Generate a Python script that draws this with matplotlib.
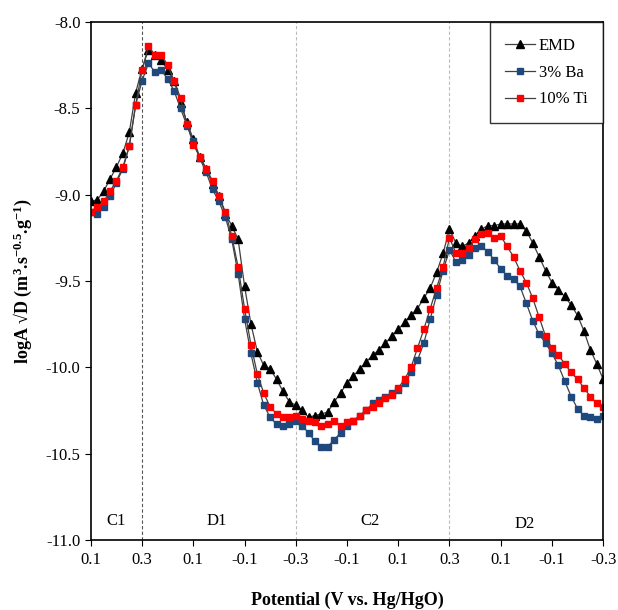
import numpy as np
import matplotlib
matplotlib.use('Agg')
from matplotlib import pyplot as plt
from matplotlib.ticker import FormatStrFormatter

plt.rcParams['font.family'] = ['Liberation Serif', 'DejaVu Serif']
plt.rcParams['mathtext.fontset'] = 'custom'
plt.rcParams['mathtext.rm'] = 'Liberation Serif'
plt.rcParams['mathtext.bf'] = 'Liberation Serif:bold'
plt.rcParams['mathtext.default'] = 'bf'
plt.rcParams['axes.unicode_minus'] = False

emd = [-9.04, -9.03, -8.98, -8.91, -8.84, -8.76, -8.64, -8.41, -8.27, -8.16,
       -8.19, -8.22, -8.28, -8.34, -8.47, -8.58, -8.68, -8.78, -8.85, -8.94,
       -9.01, -9.11, -9.18, -9.26, -9.53, -9.75, -9.91, -9.99, -10.01, -10.07,
       -10.14, -10.20, -10.22, -10.25, -10.29, -10.28, -10.27, -10.26, -10.20, -10.15,
       -10.09, -10.05, -10.01, -9.97, -9.93, -9.90, -9.86, -9.82, -9.78, -9.74,
       -9.70, -9.66, -9.60, -9.54, -9.45, -9.34, -9.20, -9.28, -9.30, -9.28,
       -9.24, -9.20, -9.18, -9.18, -9.17, -9.17, -9.17, -9.17, -9.21, -9.28,
       -9.36, -9.44, -9.51, -9.55, -9.59, -9.64, -9.70, -9.79, -9.90, -9.98,
       -10.07]
ba3 = [-9.10, -9.11, -9.07, -9.01, -8.93, -8.85, -8.72, -8.48, -8.34, -8.24,
       -8.29, -8.28, -8.33, -8.40, -8.50, -8.60, -8.69, -8.79, -8.87, -8.97,
       -9.04, -9.13, -9.26, -9.46, -9.72, -9.92, -10.09, -10.22, -10.29, -10.33,
       -10.34, -10.33, -10.31, -10.34, -10.38, -10.43, -10.46, -10.46, -10.42, -10.38,
       -10.34, -10.31, -10.28, -10.25, -10.21, -10.19, -10.17, -10.15, -10.13, -10.09,
       -10.03, -9.96, -9.86, -9.72, -9.58, -9.44, -9.32, -9.39, -9.38, -9.35,
       -9.31, -9.30, -9.33, -9.38, -9.43, -9.47, -9.49, -9.53, -9.63, -9.73,
       -9.81, -9.86, -9.92, -9.99, -10.08, -10.17, -10.24, -10.28, -10.29, -10.30,
       -10.28]
ti10 = [-9.10, -9.07, -9.04, -8.98, -8.92, -8.84, -8.72, -8.48, -8.28, -8.14,
        -8.19, -8.19, -8.25, -8.34, -8.44, -8.59, -8.71, -8.78, -8.85, -8.92,
        -9.01, -9.10, -9.24, -9.42, -9.66, -9.87, -10.04, -10.15, -10.23, -10.27,
        -10.29, -10.29, -10.28, -10.30, -10.31, -10.32, -10.34, -10.33, -10.31, -10.34,
        -10.32, -10.31, -10.28, -10.25, -10.23, -10.21, -10.18, -10.16, -10.12, -10.07,
        -10.00, -9.89, -9.78, -9.66, -9.54, -9.42, -9.25, -9.34, -9.34, -9.31,
        -9.26, -9.23, -9.22, -9.25, -9.24, -9.30, -9.36, -9.44, -9.51, -9.60,
        -9.71, -9.82, -9.89, -9.93, -9.98, -10.03, -10.07, -10.12, -10.17, -10.21,
        -10.23]

tick_labels = ['0.1', '0.3', '0.1', '-0.1', '-0.3', '-0.1', '0.1', '0.3',
               '0.1', '-0.1', '-0.3']
regions = ['C1', 'D1', 'C2', 'D2']

step = np.arange(len(emd))
fig = plt.figure(figsize=(6.18, 6.10), dpi=100)
ax = fig.add_axes([0.147, 0.115, 0.829, 0.849])

ax.plot(step, emd, color='#404040', lw=0.9, marker='^', ms=5.5,
        mfc='black', mec='black', label='EMD')
ax.plot(step, ba3, color='#404040', lw=0.9, marker='s', ms=4.6,
        mfc='#1F497D', mec='#1F497D', label='3% Ba')
ax.plot(step, ti10, color='#404040', lw=0.9, marker='s', ms=4.6,
        mfc='red', mec='red', label='10% Ti')

# switch points of the sweep
ax.axvline(8, color='#555555', lw=0.8, ls=(0, (3, 2)), zorder=0)
ax.axvline(32, color='#bbbbbb', lw=0.8, ls=(0, (3, 2)), zorder=0)
ax.axvline(56, color='#bbbbbb', lw=0.8, ls=(0, (3, 2)), zorder=0)

for lab, xpos, ypos in zip(regions, [3.9, 19.7, 43.6, 67.7],
                           [-10.89, -10.89, -10.89, -10.91]):
    ax.text(xpos, ypos, lab, fontsize=12, ha='center', va='center')

ax.set_xlim(0, 80)
ax.set_ylim(-11.0, -8.0)
ax.set_xticks(np.arange(0, 81, 8))
ax.set_xticklabels(tick_labels)
ax.set_yticks(np.arange(-11.0, -7.99, 0.5))
ax.yaxis.set_major_formatter(FormatStrFormatter('%.1f'))
ax.tick_params(direction='out', length=4, labelsize=12, top=False, right=False)
ax.tick_params(axis='x', pad=5)
for sp in ax.spines.values():
    sp.set_linewidth(1.2)

ax.set_xlabel('Potential (V vs. Hg/HgO)', fontsize=13, fontweight='bold',
              labelpad=17)
ax.set_ylabel('logA \u221aD (m$^{3}$.s$^{-0.5}$.g$^{-1}$)', fontsize=13,
              fontweight='bold', labelpad=8)

leg = ax.legend(loc='upper right', fontsize=12, fancybox=False,
                edgecolor='black', borderaxespad=0, labelspacing=0.65,
                handlelength=1.8, borderpad=0.95, handletextpad=0.2)
leg.get_frame().set_linewidth(1.0)

fig.savefig('out.png', dpi=100)
